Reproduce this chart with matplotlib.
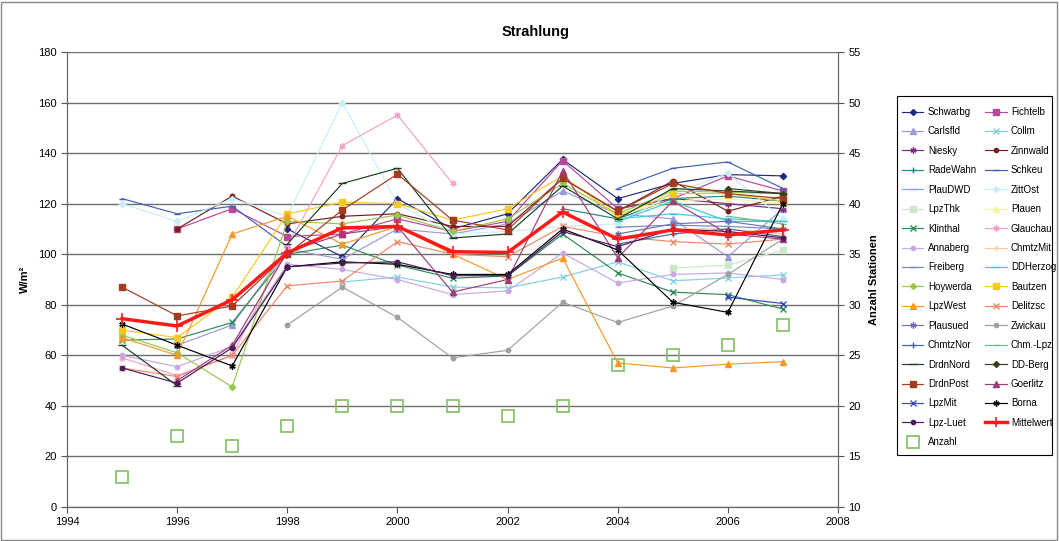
import numpy as np
import matplotlib
matplotlib.use("Agg")
import matplotlib.pyplot as plt
from matplotlib.patches import Rectangle

N = np.nan
years = list(range(1995, 2008))

Schwarbg = [N, N, N, 110, 99, 122, 110, 116, 137.5, 122, 128, 131.5, 131]
Fichtelb = [N, 110, 118, 107, 108, 114, 109, 113, 137, 118, 122, 131, 125]
Carlsfld = [N, 64, 72, 102, 98, 110, 108, 112, 125, 116, 114, 99, 118]
Collm = [N, N, N, N, 89, 91, 87, 86.7, 91, 97, 89.5, 90.6, 91.8]
Niesky = [N, N, N, N, N, N, N, N, N, 118, 122, 120, 118]
Zinnwald = [N, 110, 123, 112, 115, 116, 111, 111, 130, 117, 129, 117, 123]
RadeWahn = [N, N, N, N, N, N, N, N, 118, 114, 122, 123, 121]
Schkeu = [122, 116, 119, 103, N, N, N, N, N, 126, 134, 136.5, 126]
PlauDWD = [N, N, N, N, N, N, N, N, N, 114, 116, 114, 113]
ZittOst = [120, 113, 122, 115, 160, 120, 108, 109, 111, 112, 124, 132, 114]
LpzThk = [N, N, N, N, N, N, N, N, N, N, 94.5, 95.7, 101.7]
Plauen = [N, N, N, N, N, N, N, N, N, 116, 121, 122, 120]
Klinthal = [66, 66.5, 73, 100, 103.6, 95.7, 90.5, 91.4, 108, 92.6, 85, 84, 78.3]
Glauchau = [59, 52, 60, 103, 143, 155, 128, N, N, N, N, N, N]
Annaberg = [60, 55.5, 63.5, 96, 94, 90, 84, 85.5, 100.5, 88.6, 92, 92.6, 90]
ChmtzMit = [N, N, N, N, N, N, N, N, N, N, 110, 110, 108]
Freiberg = [N, N, N, N, N, N, N, N, N, 110.7, 111.5, 111, 110]
DDHerzog = [N, N, N, N, N, N, N, N, N, 113, 121, 113, 113]
Hoywerda = [68, 61, 47.5, 113, 112, 115.5, 109, 114, 128, 116, 125, 124.5, 124]
Bautzen = [70, 67, 83, 116, 120.6, 120, 113.5, 118, 131, 115, 124, 124, 121]
LpzWest = [67, 60, 108, 115, 104, 111, 100, 90, 98.5, 57, 55, 56.5, 57.5]
Delitzsc = [55, 51.6, 60, 87.5, 89.4, 105, 100, 99, 111, 107, 105, 104, 106]
Plausued = [N, N, N, N, N, N, N, N, N, 108, 112, 113, 110]
Zwickau = [N, N, N, 72, 87, 75, 59, 62, 81, 73, 79.5, 92, 106]
ChmtzNor = [N, N, N, N, N, N, N, N, N, 104, 108, 110, 107]
ChmLpz = [N, N, N, N, N, N, N, N, N, N, N, 115, 112]
DrdnNord = [64, 48, N, 104, 128, 134, 106.4, 108, 127, 114, 126, 125, 124]
DDBerg = [N, N, N, N, N, N, N, N, N, N, N, 126, 124]
DrdnPost = [87, 75.6, 79.5, 100, 117.5, 131.7, 113.5, 109.6, 130, 117, 128, 124, 122]
Goerlitz = [N, 50, 64, 101, 108, 111, 85, 90, 133, 98.6, 121, 108, 106]
LpzMit = [N, N, N, N, N, N, N, N, N, N, N, 83, 80.5]
Borna = [72.4, 64, 55.8, 95, 97, 96, 92, 92, 110, 101.7, 81, 77, 120]
LpzLuet = [55, 49, 63, 95, 96.5, 97, 91.5, 91.5, 109, 103, 110, 109, 106.5]
Mittelwert = [74.5, 71.6, 82, 100.5, 110.4, 111, 101, 100.7, 116.7, 106, 109.6, 107.6, 109.6]
Anzahl = [13, 17, 16, 18, 20, 20, 20, 19, 20, 24, 25, 26, 28]

star = (6, 2, 0)
series = [
    ("Schwarbg", Schwarbg, "#1F2A7A", "D", 3.2),
    ("Fichtelb", Fichtelb, "#B8489A", "s", 3.8),
    ("Carlsfld", Carlsfld, "#9A9AD8", "^", 4.2),
    ("Collm", Collm, "#80D0E0", "x", 3.8),
    ("Niesky", Niesky, "#802880", star, 4.5),
    ("Zinnwald", Zinnwald, "#7A1E1E", "o", 3.2),
    ("RadeWahn", RadeWahn, "#1E8A80", "+", 4.5),
    ("Schkeu", Schkeu, "#4060B8", "_", 4.5),
    ("PlauDWD", PlauDWD, "#40C8F0", "_", 6),
    ("ZittOst", ZittOst, "#C8EEF8", "D", 3.2),
    ("LpzThk", LpzThk, "#CCE8C8", "s", 3.8),
    ("Plauen", Plauen, "#F8F0A0", "^", 4.2),
    ("Klinthal", Klinthal, "#2E8B57", "x", 3.8),
    ("Glauchau", Glauchau, "#F4A0C8", star, 4.5),
    ("Annaberg", Annaberg, "#C8A8E0", "o", 3.2),
    ("ChmtzMit", ChmtzMit, "#F8C8A0", "+", 4.5),
    ("Freiberg", Freiberg, "#7088C8", "_", 4.5),
    ("DDHerzog", DDHerzog, "#40C8C8", "_", 6),
    ("Hoywerda", Hoywerda, "#98C848", "D", 3.2),
    ("Bautzen", Bautzen, "#F8C820", "s", 3.8),
    ("LpzWest", LpzWest, "#F89828", "^", 4.2),
    ("Delitzsc", Delitzsc, "#F08868", "x", 3.8),
    ("Plausued", Plausued, "#7070B0", star, 4.5),
    ("Zwickau", Zwickau, "#A0A0A0", "o", 3.2),
    ("ChmtzNor", ChmtzNor, "#4868A0", "+", 4.5),
    ("Chm.-Lpz", ChmLpz, "#60C090", "_", 4.5),
    ("DrdnNord", DrdnNord, "#1A4020", "_", 6),
    ("DD-Berg", DDBerg, "#38401A", "D", 3.2),
    ("DrdnPost", DrdnPost, "#A03C20", "s", 3.8),
    ("Goerlitz", Goerlitz, "#A03C78", "^", 4.2),
    ("LpzMit", LpzMit, "#3848C0", "x", 3.8),
    ("Borna", Borna, "#000000", star, 4.5),
    ("Lpz-Luet", LpzLuet, "#4A1A5A", "o", 3.2),
]

plt.rcParams['font.family'] = ['Liberation Sans', 'DejaVu Sans']
fig = plt.figure(figsize=(10.59, 5.41), dpi=100)
ax = fig.add_axes([67/1059, 1-507/541, (838-67)/1059, (507-52)/541])

handles = []
for name, vals, col, mk, ms in series:
    h, = ax.plot(years, vals, color=col, lw=0.85, marker=mk, ms=ms,
                 mfc=col, mec=col, mew=1.0, label=name)
    handles.append(h)
hm, = ax.plot(years, Mittelwert, color="#FF1A1A", lw=2.5, marker="+", ms=8,
              mew=1.2, label="Mittelwert")
handles.append(hm)

ax2 = ax.twinx()
ha, = ax2.plot(years, Anzahl, ls="none", marker="s", ms=9, mfc="none",
               mec="#80C060", mew=1.2, label="Anzahl")
handles.append(ha)

ax.set_xlim(1994, 2008)
ax.set_ylim(0, 180)
ax2.set_ylim(10, 55)
ax.set_xticks(range(1994, 2009, 2))
ax.set_yticks(range(0, 181, 20))
ax2.set_yticks(range(10, 56, 5))
ax.grid(axis='y', color="#6E6E6E", lw=1.0)
ax.set_axisbelow(True)
for a in (ax, ax2):
    a.tick_params(labelsize=8, direction='out', length=4, color="#555555")
    for s in a.spines.values():
        s.set_color("#666666")
ax.spines['top'].set_visible(False)
ax2.spines['top'].set_visible(False)
ax.set_ylabel("W/m²", fontsize=8, fontweight='bold', labelpad=6)
ax2.set_ylabel("Anzahl Stationen", fontsize=8, fontweight='bold', labelpad=6)
fig.text(0.5060, 1-32/541, "Strahlung", ha='center', va='center',
         fontsize=10.5, fontweight='bold')

order = handles[0::2] + handles[1::2]
leg = fig.legend(handles=order, labels=[h.get_label() for h in order],
                 ncol=2, loc='upper left', bbox_to_anchor=(902/1059, 1-107/541),
                 fontsize=7, frameon=False, markerscale=0.95,
                 handlelength=2.2, labelspacing=0.97, columnspacing=0.95,
                 handletextpad=0.45, borderpad=0, borderaxespad=0)

fig.patches.append(Rectangle((897/1059, 1-455/541), 155/1059, 359/541,
                             transform=fig.transFigure, fill=False,
                             edgecolor="black", lw=0.8))
fig.patches.append(Rectangle((0.001, 0.002), 0.997, 0.995, transform=fig.transFigure,
                             fill=False, edgecolor="#888888", lw=1))
fig.savefig("out.png", dpi=100)
